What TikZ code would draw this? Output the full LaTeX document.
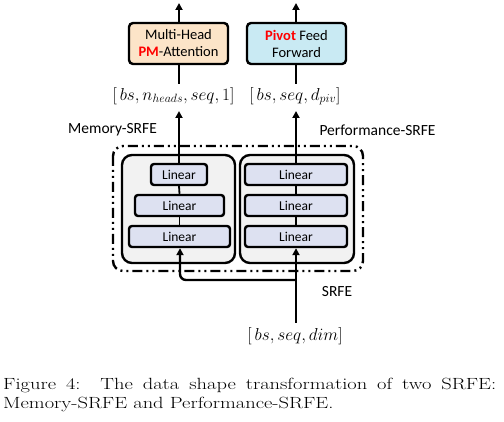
\documentclass[tikz,border=0pt]{standalone}
\usepackage{fontspec}
\usepackage{graphicx}
\newfontfamily\carlito{Carlito}
\usetikzlibrary{arrows.meta}
\definecolor{peach}{HTML}{FCE4C8}
\definecolor{skyb}{HTML}{C9EAF3}
\definecolor{lav}{HTML}{DDE1F1}
\definecolor{pale}{HTML}{F2F2F2}
\tikzset{
  topbox/.style={draw=black, line width=2.4pt, rounded corners=4pt, minimum width=99pt, minimum height=41pt, inner sep=0pt, align=center, font=\carlito\fontsize{14.5}{17}\selectfont},
  groupbox/.style={draw=black, line width=2.4pt, rounded corners=10pt, fill=pale},
  linbox/.style={draw=black, line width=2.4pt, rounded corners=3pt, fill=lav, inner sep=0pt, font=\carlito\fontsize{13.5}{15}\selectfont},
  sflabel/.style={font=\carlito\fontsize{15.5}{17}\selectfont, inner sep=0pt},
  mlabel/.style={font=\fontsize{17}{19}\selectfont, inner sep=0pt},
  caplabel/.style={anchor=base west, inner sep=0pt, font=\fontsize{16.2}{20}\selectfont},
  arr/.style={line width=2.4pt, -{Triangle[length=7pt,width=7pt]}},
  plain/.style={line width=2.4pt},
  thin/.style={line width=1.8pt},
}
\begin{document}
\begin{tikzpicture}[x=1pt,y=-1pt]
\useasboundingbox (0,0) rectangle (504,422);
% outer dash-dot-dot frame
\draw[line width=2.4pt, rounded corners=10pt, dash pattern=on 10pt off 4pt on 2pt off 4pt on 2pt off 4pt] (113,146) rectangle (363,271);
% group boxes
\draw[groupbox] (122,155) rectangle (235,263);
\draw[groupbox] (240,155) rectangle (354,263);
% linear boxes left
\node[linbox, minimum width=56pt, minimum height=21pt] (l1) at (179,174.5) {Linear};
\node[linbox, minimum width=89pt, minimum height=21pt] (l2) at (179.5,205.5) {Linear};
\node[linbox, minimum width=101pt, minimum height=21pt] (l3) at (179.5,236.5) {Linear};
% linear boxes right
\node[linbox, minimum width=102pt, minimum height=21pt] (r1) at (296,174.5) {Linear};
\node[linbox, minimum width=102pt, minimum height=21pt] (r2) at (296,205.5) {Linear};
\node[linbox, minimum width=102pt, minimum height=21pt] (r3) at (296,236.5) {Linear};
\draw[thin] (l1.south) -- (l2.north);
\draw[thin] (l2.south) -- (l3.north);
\draw[thin] (r1.south) -- (r2.north);
\draw[thin] (r2.south) -- (r3.north);
% top boxes
\node[topbox, fill=peach] (ma) at (178.5,43.5) {Multi-Head\\{\color{red}\bfseries PM}-Attention};
\node[topbox, fill=skyb] (pf) at (296.5,43.5) {{\color{red}\bfseries Pivot} Feed\\Forward};
\coordinate (t1) at (179,3);
\coordinate (t2) at (296,3);
\draw[arr] (ma.north -| t1) -- (t1);
\draw[arr] (pf.north -| t2) -- (t2);
% shape labels
\node[mlabel] (s1) at (173.5,96) {$[\,bs, n_{heads}, seq, 1]$};
\node[mlabel] (s2) at (295,96) {$[\,bs, seq, d_{piv}]$};
\coordinate (a1) at (179,84);
\coordinate (a2) at (296,84);
\draw[plain] (a1) -- (ma.south -| a1);
\draw[plain] (a2) -- (pf.south -| a2);
\coordinate (h1) at (179,111);
\coordinate (h2) at (296,111);
\draw[arr] (l1.north) -- (h1);
\draw[arr] (r1.north) -- (h2);
% side labels
\node[sflabel] (mem) at (112.5,130) {Memory-SRFE};
\node[sflabel] (perf) at (377.5,130) {Performance-SRFE};
\node[sflabel] (srfe) at (337,292) {SRFE};
% input
\node[mlabel] (inp) at (295,336) {$[\,bs, seq, dim]$};
\coordinate (in0) at (296,323);
\coordinate (br) at (296,280);
\draw[arr] (in0) -- (r3.south -| in0);
\draw[arr, rounded corners=6pt] (br) -- (180,280) -- (l3.south -| 180,0);
% caption
\node[caplabel] (cap1) at (3,389) {\scalebox{1.265}[1]{\makebox[389.7pt][s]{Figure 4:\ \ The data shape transformation of two SRFE:}}};
\node[caplabel] (cap2) at (3,409) {\scalebox{1.265}[1]{Memory-SRFE and Performance-SRFE.}};
\end{tikzpicture}
\end{document}
